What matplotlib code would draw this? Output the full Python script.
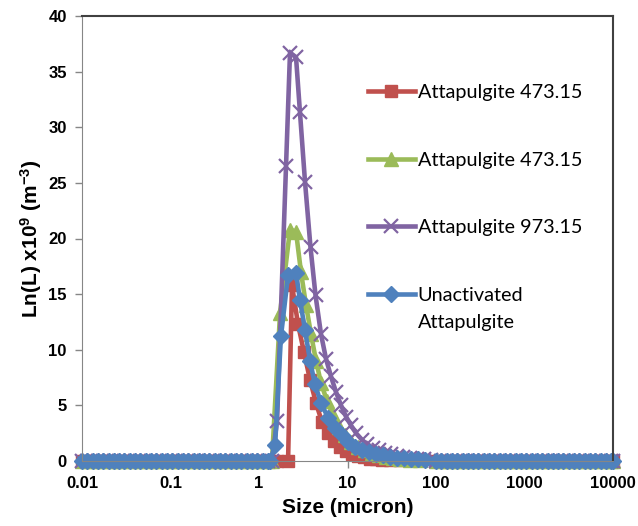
import matplotlib
matplotlib.use('Agg')
import matplotlib.pyplot as plt

plt.rcParams['mathtext.fontset'] = 'custom'
plt.rcParams['mathtext.rm'] = 'Liberation Sans:bold'
plt.rcParams['mathtext.default'] = 'rm'

# shared zero baseline (micron) on both sides of the peak
size_left = [0.01, 0.0115, 0.0132, 0.0151, 0.0174, 0.02, 0.0229, 0.0263, 0.0302, 0.0347,
             0.0398, 0.0457, 0.0525, 0.0603, 0.0692, 0.0794, 0.0912, 0.105, 0.120, 0.138,
             0.158, 0.182, 0.209, 0.240, 0.275, 0.316, 0.363, 0.417, 0.479, 0.550,
             0.631, 0.724, 0.832, 0.955, 1.10, 1.26]
size_right = [100, 115, 132, 151, 174, 200, 229, 263, 302, 347, 398, 457, 525, 603, 692,
              794, 912, 1047, 1202, 1380, 1585, 1820, 2089, 2399, 2754, 3162, 3631, 4169,
              4786, 5495, 6310, 7244, 8318, 9550, 10000]

# peak part of each series
red_x = [1.60, 2.13, 2.36, 2.76, 3.22, 3.77, 4.41, 5.15, 6.02, 7.03, 8.22, 9.62,
         11.2, 13.2, 15.4, 17.9, 21.0, 24.5, 30.2, 39.2]
red_y = [0, 0, 15.8, 12.3, 9.8, 7.3, 5.2, 3.5, 2.5, 1.8, 1.3, 0.9,
         0.65, 0.45, 0.32, 0.22, 0.15, 0.1, 0.07, 0.05]

green_x = [1.40, 1.73, 2.24, 2.62, 2.98, 3.40, 3.87, 4.41, 5.02, 5.87, 6.86, 8.01, 9.37,
           10.96, 13.2, 15.8, 18.9, 22.7, 27.2, 32.7, 39.2, 50.8, 65.9]
green_y = [0, 13.3, 20.8, 20.6, 17.0, 14.0, 11.4, 9.0, 7.0, 5.4, 4.1, 3.1, 2.3,
           1.7, 1.3, 0.95, 0.7, 0.5, 0.38, 0.28, 0.2, 0.12, 0.08]

purple_x = [1.40, 1.60, 2.02, 2.24, 2.62, 2.90, 3.31, 3.82, 4.35, 5.02, 5.71, 6.51, 7.41,
            8.45, 9.62, 10.96, 12.5, 14.6, 16.6, 19.4, 22.7, 26.5, 31.0, 36.3, 42.4, 50.8,
            61.0, 73.0, 88.0]
purple_y = [0, 3.6, 26.5, 36.7, 36.3, 31.4, 25.1, 19.2, 14.9, 11.4, 9.2, 7.6, 6.2,
            5.0, 4.0, 3.2, 2.5, 1.9, 1.5, 1.2, 0.95, 0.75, 0.6, 0.48, 0.38, 0.3,
            0.22, 0.17, 0.12]

blue_x = [1.33, 1.52, 1.77, 2.13, 2.62, 2.90, 3.31, 3.77, 4.29, 5.02, 6.02, 7.23, 8.67,
          10.1, 12.2, 14.6, 17.5, 21.0, 25.2, 30.2, 36.3, 43.5, 52.0, 62.4, 74.8]
blue_y = [0, 1.4, 11.2, 16.7, 16.9, 14.5, 11.8, 9.0, 6.9, 5.2, 3.9, 3.0, 2.3,
          1.7, 1.3, 1.0, 0.8, 0.6, 0.5, 0.4, 0.3, 0.25, 0.2, 0.15, 0.1]

labels = ['Attapulgite 473.15', 'Attapulgite 473.15', 'Attapulgite 973.15', 'Unactivated']
colors = ['#C0504D', '#9BBB59', '#8064A2', '#4F81BD']

fig = plt.figure(figsize=(6.38, 5.26), dpi=100)
ax = fig.add_axes([82/638, 1-461/526, 531/638, 445/526])

zl = [0] * len(size_left)
zr = [0] * len(size_right)
series = [(red_x, red_y, dict(marker='s', ms=8)),
          (green_x, green_y, dict(marker='^', ms=9.5)),
          (purple_x, purple_y, dict(marker='x', ms=10, mew=1.6)),
          (blue_x, blue_y, dict(marker='D', ms=8.5))]
for (sx, sy, mk), c, lab in zip(series, colors, labels):
    ax.plot(size_left + sx + size_right, zl + sy + zr, color=c, lw=3.3, mec=c, mfc=c,
            label=lab, clip_on=False, **mk)

ax.set_xscale('log')
ax.set_xlim(0.01, 10000)
ax.set_ylim(0, 40)
ax.set_yticks(range(0, 41, 5))
ax.set_xticks([0.01, 0.1, 1, 10, 100, 1000, 10000])
ax.set_xticklabels(['0.01', '0.1', '1', '10', '100', '1000', '10000'])
ax.minorticks_off()
ax.tick_params(axis='both', direction='out', length=5, color='#868686', width=1,
               labelsize=12, pad=6)
for t in ax.get_xticklabels() + ax.get_yticklabels():
    t.set_fontweight('bold')
    t.set_family('Liberation Sans')
for s in ['left', 'bottom']:
    ax.spines[s].set_color('#868686')
for s in ['top', 'right']:
    ax.spines[s].set_color('#404040')
    ax.spines[s].set_linewidth(1.5)

ax.set_xlabel('Size (micron)', fontsize=15, fontweight='bold', family='Liberation Sans', labelpad=5)
ax.set_ylabel('Ln(L) x10$^{9}$ (m$^{-3}$)', fontsize=15, fontweight='bold',
              family='Liberation Sans', labelpad=3)

leg = ax.legend(loc='upper left', bbox_to_anchor=(0.5386, 0.847), frameon=False,
                borderaxespad=0, borderpad=0, handlelength=2.35, handletextpad=0.15,
                labelspacing=2.55, prop={'family': 'Lato', 'size': 14.3})

# second line of the last legend entry, placed under "Unactivated"
fig.canvas.draw()
bb = leg.get_texts()[3].get_window_extent()
fig.text(bb.x0 / fig.bbox.width, (bb.y0 - 27) / fig.bbox.height, 'Attapulgite',
         ha='left', va='bottom', family='Lato', fontsize=14.3)

fig.savefig('out.png', dpi=100)
